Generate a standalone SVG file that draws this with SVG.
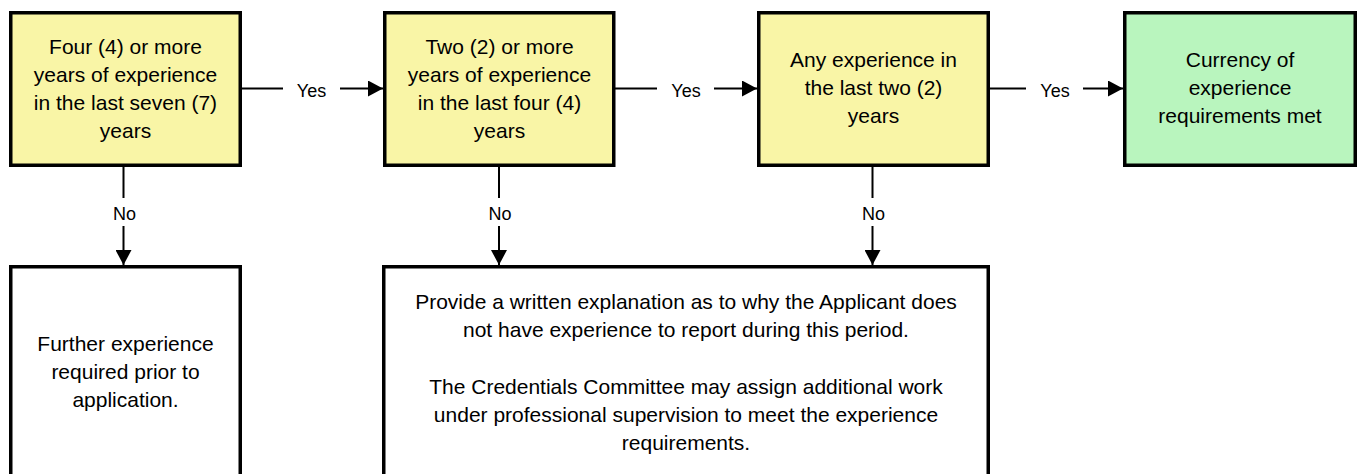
<svg xmlns="http://www.w3.org/2000/svg" width="1358" height="474" viewBox="0 0 1358 474">
<style>
.box{stroke:#000;stroke-width:3.5}
.q{fill:#F9F5A6}
.ok{fill:#B9F5BE}
.end{fill:#fff}
.t{font-family:"Liberation Sans",Arial,sans-serif;font-size:21px;fill:#000;text-anchor:middle}
.lbl{font-family:"Liberation Sans",Arial,sans-serif;font-size:18px;fill:#000;text-anchor:middle}
.c{fill:none;stroke:#000;stroke-width:2}
</style>
<defs>
<marker id="arr" markerUnits="userSpaceOnUse" markerWidth="16" markerHeight="16" refX="15" refY="8" orient="auto">
<path d="M0,0 L15,8 L0,16 Z" fill="#000"/>
</marker>
</defs>
<rect width="1358" height="474" fill="#fff"/>
<g id="connectors">
<path class="c" d="M242,88.5 H283 M340,88.5 H383" marker-end="url(#arr)"/>
<text class="lbl" x="311.5" y="96.5">Yes</text>
<path class="c" d="M615,88.5 H657 M714,88.5 H757" marker-end="url(#arr)"/>
<text class="lbl" x="686" y="96.5">Yes</text>
<path class="c" d="M990,88.5 H1026 M1083,88.5 H1123" marker-end="url(#arr)"/>
<text class="lbl" x="1055" y="96.5">Yes</text>
<path class="c" d="M123.5,167 V198 M123.5,226 V265" marker-end="url(#arr)"/>
<text class="lbl" x="124.5" y="220">No</text>
<path class="c" d="M499,167 V198 M499,226 V265" marker-end="url(#arr)"/>
<text class="lbl" x="500" y="220">No</text>
<path class="c" d="M872.5,167 V198 M872.5,226 V265" marker-end="url(#arr)"/>
<text class="lbl" x="873.5" y="220">No</text>
</g>
<g id="n1">
<rect class="box q" x="10.75" y="12.75" width="229.5" height="152.5"/>
<text class="t" x="125.5" y="53.5">Four (4) or more</text>
<text class="t" x="125.5" y="81.5">years of experience</text>
<text class="t" x="125.5" y="109.5">in the last seven (7)</text>
<text class="t" x="125.5" y="137.5">years</text>
</g>
<g id="n2">
<rect class="box q" x="384.75" y="12.75" width="229" height="152.5"/>
<text class="t" x="499.5" y="53.5">Two (2) or more</text>
<text class="t" x="499.5" y="81.5">years of experience</text>
<text class="t" x="499.5" y="109.5">in the last four (4)</text>
<text class="t" x="499.5" y="137.5">years</text>
</g>
<g id="n3">
<rect class="box q" x="758.75" y="12.75" width="229.5" height="152.5"/>
<text class="t" x="873.5" y="67">Any experience in</text>
<text class="t" x="873.5" y="95">the last two (2)</text>
<text class="t" x="873.5" y="123">years</text>
</g>
<g id="n4">
<rect class="box ok" x="1124.75" y="12.75" width="230.5" height="152.5"/>
<text class="t" x="1240" y="67">Currency of</text>
<text class="t" x="1240" y="95">experience</text>
<text class="t" x="1240" y="123">requirements met</text>
</g>
<g id="n5">
<rect class="box end" x="10.75" y="266.75" width="229.5" height="230"/>
<text class="t" x="125.5" y="351">Further experience</text>
<text class="t" x="125.5" y="379">required prior to</text>
<text class="t" x="125.5" y="407">application.</text>
</g>
<g id="n6">
<rect class="box end" x="383.75" y="266.75" width="604.5" height="230"/>
<text class="t" x="686" y="309">Provide a written explanation as to why the Applicant does</text>
<text class="t" x="686" y="337">not have experience to report during this period.</text>
<text class="t" x="686" y="394">The Credentials Committee may assign additional work</text>
<text class="t" x="686" y="422">under professional supervision to meet the experience</text>
<text class="t" x="686" y="450">requirements.</text>
</g>
</svg>
